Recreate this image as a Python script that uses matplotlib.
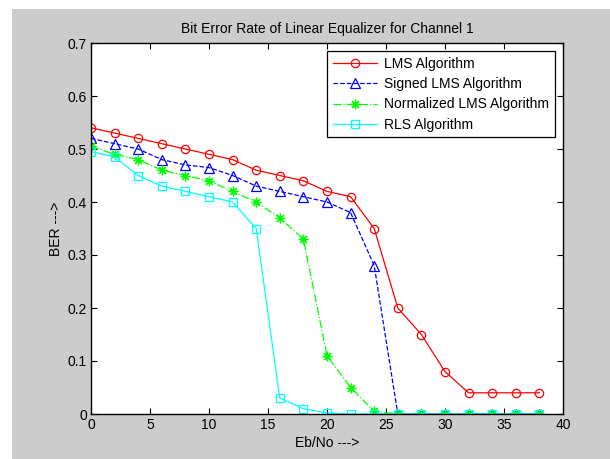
import matplotlib
matplotlib.use('Agg')
import numpy as np
import matplotlib.pyplot as plt
from matplotlib.patches import Rectangle

plt.rcParams['font.family'] = ['Liberation Sans', 'DejaVu Sans']

# Eb/No values (dB)
ebno = [0, 2, 4, 6, 8, 10, 12, 14, 16, 18, 20, 22, 24, 26, 28, 30, 32, 34, 36, 38]

# BER per algorithm
ber_lms = [0.54, 0.53, 0.52, 0.51, 0.50, 0.49, 0.48, 0.46, 0.45, 0.44,
           0.42, 0.41, 0.35, 0.20, 0.15, 0.08, 0.04, 0.04, 0.04, 0.04]
ber_signed = [0.52, 0.51, 0.50, 0.48, 0.47, 0.465, 0.45, 0.43, 0.42, 0.41,
              0.40, 0.38, 0.28, 0.0, 0.0, 0.0, 0.0, 0.0, 0.0, 0.0]
ber_nlms = [0.505, 0.49, 0.48, 0.46, 0.45, 0.44, 0.42, 0.40, 0.37, 0.33,
            0.11, 0.05, 0.005, 0.0, 0.0, 0.0, 0.0, 0.0, 0.0, 0.0]
ber_rls = [0.495, 0.485, 0.45, 0.43, 0.42, 0.41, 0.40, 0.35, 0.03, 0.01,
           0.002, 0.0, 0.0, 0.0, 0.0, 0.0, 0.0, 0.0, 0.0, 0.0]

labels = ['LMS Algorithm', 'Signed LMS Algorithm',
          'Normalized LMS Algorithm', 'RLS Algorithm']

fig = plt.figure(figsize=(6.1, 4.59), dpi=100, facecolor='white')
# matlab grey figure area
fig.patches.append(Rectangle((12 / 610, 0), 1 - 12 / 610, 1 - 9 / 459,
                             transform=fig.transFigure, facecolor='#cccccc',
                             edgecolor='none', zorder=-10))
ax = fig.add_axes([91 / 610, 1 - 414 / 459, (563 - 91) / 610, (414 - 43) / 459])
ax.set_facecolor('white')

lw = 0.9
ax.plot(ebno, ber_lms, color='#ff0000', ls='-', marker='o', lw=lw, ms=6,
        mfc='none', mew=0.9, label=labels[0])
ax.plot(ebno, ber_signed, color='#0000ff', ls='--', marker='^', lw=lw, ms=7,
        mfc='none', mew=0.9, label=labels[1])
ax.plot(ebno, ber_nlms, color='#00ff00', ls='-.', marker=(8, 2, 0), lw=lw, ms=7,
        mew=0.9, label=labels[2])
ax.plot(ebno, ber_rls, color='#00ffff', ls='-', marker='s', lw=lw, ms=6,
        mfc='none', mew=0.9, label=labels[3])

ax.set_xlim(0, 40)
ax.set_ylim(0, 0.7)
ax.set_xticks(np.arange(0, 41, 5))
ax.set_yticks(np.arange(0, 0.71, 0.1))
ax.set_yticklabels(['0', '0.1', '0.2', '0.3', '0.4', '0.5', '0.6', '0.7'])
ax.tick_params(direction='in', top=True, right=True, labelsize=10, length=4,
               width=0.8, pad=3)
for s in ax.spines.values():
    s.set_linewidth(1.0)

ax.set_title('Bit Error Rate of Linear Equalizer for Channel 1', fontsize=10, pad=7)
ax.set_xlabel('Eb/No --->', fontsize=10, labelpad=3)
ax.set_ylabel('BER --->', fontsize=10, labelpad=3)

leg = ax.legend(loc='upper right', fontsize=10, fancybox=False, framealpha=1,
                edgecolor='black', handlelength=3.2, borderaxespad=0.6,
                labelspacing=0.45, handletextpad=0.5)
leg.get_frame().set_linewidth(0.9)

fig.savefig('out.png', dpi=100, facecolor=fig.get_facecolor())
